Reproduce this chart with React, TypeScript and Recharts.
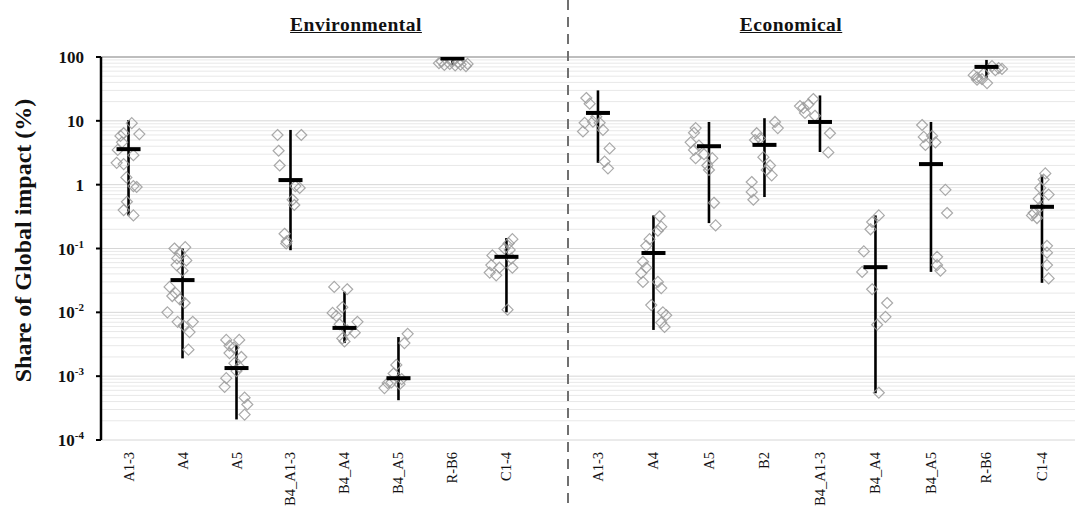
import React from "react";
import { ScatterChart, Scatter, XAxis, YAxis, ReferenceLine, Label } from "recharts";

const envCategories = ["A1-3", "A4", "A5", "B4_A1-3", "B4_A4", "B4_A5", "R-B6", "C1-4"];
const ecoCategories = ["A1-3", "A4", "A5", "B2", "B4_A1-3", "B4_A4", "B4_A5", "R-B6", "C1-4"];

const yTicks = [1e-4, 1e-3, 1e-2, 1e-1, 1, 10, 100];

// median and whisker ends per category
const envMedian = [3.6, 0.032, 0.00134, 1.18, 0.0057, 0.00093, 95, 0.074];
const envLow = [0.33, 0.0019, 0.00021, 0.094, 0.0033, 0.00042, 76, 0.01];
const envHigh = [10.3, 0.1, 0.0031, 7.2, 0.021, 0.0041, 100, 0.146];

const ecoMedian = [13.3, 0.085, 4.0, 4.2, 9.6, 0.051, 2.1, 70, 0.45];
const ecoLow = [2.2, 0.0053, 0.25, 0.64, 3.25, 0.00054, 0.043, 47, 0.029];
const ecoHigh = [30, 0.33, 9.6, 11, 25, 0.33, 9.6, 90, 1.42];

// individual results: [offset from category centre, value]
const envPoints: number[][][] = [
  [[-0.09, 6.4], [-0.15, 5.8], [0.06, 9.2], [0.2, 6.2], [-0.2, 3.5], [0.09, 2.9], [-0.22, 2.2], [-0.09, 2.1], [-0.04, 1.3], [0.15, 0.92], [0.09, 0.95], [-0.03, 0.54], [-0.09, 0.4], [0.09, 0.33], [-0.12, 4.6]],
  [[-0.15, 0.1], [0.05, 0.105], [-0.05, 0.085], [-0.1, 0.07], [0.07, 0.065], [-0.11, 0.055], [0.0, 0.045], [-0.24, 0.025], [-0.19, 0.018], [-0.05, 0.016], [0.04, 0.014], [-0.28, 0.01], [-0.09, 0.0071], [0.19, 0.0071], [0.02, 0.0062], [0.13, 0.0049], [0.11, 0.0026], [-0.13, 0.02]],
  [[-0.19, 0.0037], [0.05, 0.0037], [-0.13, 0.003], [-0.13, 0.0023], [0.09, 0.002], [-0.04, 0.0016], [0.05, 0.0014], [-0.19, 0.00093], [-0.22, 0.00068], [0.15, 0.00046], [0.2, 0.00036], [0.15, 0.00025], [-0.05, 0.0028], [0.0, 0.0012]],
  [[-0.24, 6.0], [0.2, 6.0], [-0.22, 3.4], [-0.2, 2.0], [0.17, 0.89], [0.09, 0.95], [0.04, 0.58], [0.07, 0.48], [-0.11, 0.17], [-0.07, 0.13], [-0.08, 0.12]],
  [[-0.19, 0.025], [0.05, 0.023], [-0.22, 0.0098], [-0.04, 0.012], [-0.15, 0.0088], [0.24, 0.0071], [-0.09, 0.0065], [0.05, 0.0052], [0.19, 0.0048], [-0.04, 0.0039], [0.0, 0.0035]],
  [[0.17, 0.0046], [0.11, 0.0033], [-0.04, 0.0015], [-0.09, 0.0011], [-0.2, 0.00078], [-0.26, 0.00065], [0.02, 0.00075], [0.06, 0.0009], [-0.13, 0.0008]],
  [[-0.25, 80], [-0.15, 75], [-0.05, 78], [0.05, 74], [0.15, 76], [0.25, 72], [-0.2, 85], [0.1, 82], [0.28, 78], [0.0, 88]],
  [[0.11, 0.14], [0.04, 0.12], [-0.04, 0.1], [0.06, 0.095], [-0.26, 0.078], [0.09, 0.07], [-0.28, 0.055], [-0.13, 0.05], [-0.31, 0.042], [-0.19, 0.038], [0.11, 0.05], [0.02, 0.011]],
];

const ecoPoints: number[][][] = [
  [[-0.21, 22.8], [-0.15, 18.6], [-0.24, 9.3], [-0.27, 6.8], [-0.09, 9.7], [0.03, 9.3], [0.09, 7.2], [0.21, 3.7], [0.18, 1.8], [0.12, 2.3], [-0.03, 11.6]],
  [[0.11, 0.32], [0.14, 0.22], [0.08, 0.19], [-0.07, 0.14], [-0.13, 0.11], [-0.19, 0.062], [-0.13, 0.05], [-0.22, 0.041], [-0.19, 0.03], [0.08, 0.03], [0.14, 0.024], [-0.04, 0.013], [0.17, 0.01], [0.23, 0.009], [0.14, 0.0069], [0.2, 0.0059]],
  [[-0.24, 7.7], [-0.27, 6.5], [-0.33, 4.6], [-0.18, 4.1], [-0.27, 3.5], [-0.24, 2.6], [-0.09, 3.0], [-0.03, 2.0], [0.06, 2.6], [0.0, 1.7], [0.09, 0.52], [0.12, 0.23]],
  [[0.19, 9.6], [0.24, 7.7], [-0.14, 6.4], [-0.17, 5.0], [-0.08, 5.3], [-0.02, 2.7], [0.1, 2.0], [0.04, 1.7], [0.13, 1.4], [-0.23, 1.1], [-0.23, 0.77], [-0.2, 0.58]],
  [[-0.12, 22], [-0.3, 16], [-0.21, 18], [-0.27, 13.3], [-0.09, 12], [0.18, 6.4], [0.15, 3.2], [-0.36, 17]],
  [[0.06, 0.33], [-0.06, 0.26], [-0.09, 0.2], [-0.21, 0.09], [-0.24, 0.043], [-0.06, 0.023], [0.21, 0.014], [0.18, 0.0085], [0.03, 0.0064], [0.06, 0.00055]],
  [[-0.16, 8.6], [-0.13, 5.6], [0.02, 5.8], [-0.1, 4.2], [0.08, 4.6], [0.26, 0.83], [0.29, 0.36], [0.11, 0.074], [0.11, 0.055], [0.17, 0.045]],
  [[-0.17, 48], [-0.08, 45], [0.01, 39], [0.22, 67], [0.28, 65], [0.1, 72], [-0.23, 52], [0.16, 62], [-0.05, 55], [-0.17, 44]],
  [[0.06, 1.5], [0.03, 1.2], [-0.03, 0.89], [0.12, 0.7], [-0.06, 0.6], [-0.15, 0.36], [-0.09, 0.3], [-0.18, 0.33], [-0.03, 0.45], [0.09, 0.11], [0.09, 0.086], [0.09, 0.055], [0.12, 0.034]],
];

// log minor grid lines
const gridValues: number[] = [];
for (let e = -4; e < 2; e++) for (let k = 2; k < 10; k++) gridValues.push(k * Math.pow(10, e));

const serif = "'Liberation Serif', 'Times New Roman', serif";

const Diamond = (props: any) => {
  const { cx, cy } = props;
  if (cx == null || cy == null) return null;
  const r = 5.5;
  return (
    <polygon
      points={`${cx},${cy - r} ${cx + r},${cy} ${cx},${cy + r} ${cx - r},${cy}`}
      fill="none"
      stroke="#9a9a9a"
      strokeWidth={1.2}
      strokeOpacity={0.85}
    />
  );
};

const MedianBar = (props: any) => {
  const { cx, cy } = props;
  if (cx == null || cy == null) return null;
  return <rect x={cx - 12} y={cy - 2} width={24} height={4} fill="#000" />;
};

const YTick = (props: any) => {
  const { x, y, payload } = props;
  const exp = Math.round(Math.log10(payload.value));
  const style = { fontFamily: serif, fontWeight: 700, fontSize: 17, fill: "#111" };
  if (exp >= 0) {
    return (
      <text x={x} y={y} dy={6} textAnchor="end" style={style}>
        {String(payload.value)}
      </text>
    );
  }
  return (
    <text x={x} y={y} dy={6} textAnchor="end" style={style}>
      <tspan>10</tspan>
      <tspan dy={-7} fontSize={11}>{String(exp)}</tspan>
    </text>
  );
};

const makeXTick = (names: string[]) => (props: any) => {
  const { x, y, payload } = props;
  return (
    <text
      x={x}
      y={y}
      transform={`rotate(-90 ${x} ${y})`}
      textAnchor="end"
      dominantBaseline="central"
      style={{ fontFamily: serif, fontSize: 14.5, fill: "#111" }}
    >
      {names[payload.value]}
    </text>
  );
};

const toPoints = (pts: number[][][]) =>
  pts.flatMap((list, i) => list.map(([dx, v]) => ({ x: i + dx, y: v })));
const toMedians = (vals: number[]) => vals.map((v, i) => ({ x: i, y: v }));

const Panel = ({
  names, points, median, low, high, width, domain, margin, showY,
}: {
  names: string[]; points: number[][][]; median: number[]; low: number[]; high: number[];
  width: number; domain: [number, number]; margin: any; showY: boolean;
}) => (
  <ScatterChart width={width} height={508} margin={margin}>
    <XAxis
      type="number"
      dataKey="x"
      domain={domain}
      allowDataOverflow
      ticks={names.map((_, i) => i)}
      interval={0}
      axisLine={false}
      tickLine={false}
      height={68}
      tickMargin={6}
      tick={makeXTick(names)}
    />
    <YAxis
      type="number"
      dataKey="y"
      scale="log"
      domain={[1e-4, 100]}
      allowDataOverflow
      ticks={yTicks}
      interval={0}
      hide={!showY}
      width={101}
      axisLine={{ stroke: "#000", strokeWidth: 2.5 }}
      tickLine={{ stroke: "#000", strokeWidth: 2 }}
      tickSize={5}
      tickMargin={12}
      tick={<YTick />}
    >
      {showY && (
        <Label
          content={(p: any) => {
            const vb = p.viewBox || {};
            const cx = 23;
            const cy = (vb.y ?? 57) + (vb.height ?? 383) / 2 - 8;
            return (
              <text
                x={cx}
                y={cy}
                transform={`rotate(-90 ${cx} ${cy})`}
                textAnchor="middle"
                dominantBaseline="central"
                style={{ fontFamily: serif, fontWeight: 700, fontSize: 24, fill: "#111" }}
              >
                Share of Global impact (%)
              </text>
            );
          }}
        />
      )}
    </YAxis>
    {gridValues.map((v) => (
      <ReferenceLine key={`g${v}`} y={v} stroke="#e8e8e8" strokeWidth={1} />
    ))}
    {[1e-4, 1e-3, 1e-2, 1e-1, 1, 10].map((v) => (
      <ReferenceLine key={`m${v}`} y={v} stroke="#d6d6d6" strokeWidth={1} />
    ))}
    <ReferenceLine y={100} stroke="#a8a8a8" strokeWidth={1.5} />
    {low.map((lo, i) => (
      <ReferenceLine
        key={`r${i}`}
        segment={[{ x: i, y: lo }, { x: i, y: high[i] }]}
        stroke="#000"
        strokeWidth={2.6}
        ifOverflow="visible"
      />
    ))}
    <Scatter data={toPoints(points)} shape={<Diamond />} isAnimationActive={false} />
    <Scatter data={toMedians(median)} shape={<MedianBar />} isAnimationActive={false} />
  </ScatterChart>
);

const titleStyle: React.CSSProperties = {
  position: "absolute",
  top: 14,
  fontFamily: serif,
  fontWeight: 700,
  fontSize: 19.5,
  textDecoration: "underline",
  color: "#111",
  transform: "translateX(-50%)",
  whiteSpace: "nowrap",
  letterSpacing: 0.5,
};

export default function App() {
  return (
    <div style={{ position: "absolute", left: 0, top: 0, width: 1084, height: 508, background: "#fff", overflow: "hidden" }}>
      <div style={{ position: "absolute", left: 0, top: 0 }}>
        <Panel
          names={envCategories}
          points={envPoints}
          median={envMedian}
          low={envLow}
          high={envHigh}
          width={568}
          domain={[-0.51, 8.14]}
          margin={{ top: 57, right: 0, bottom: 0, left: 0 }}
          showY
        />
      </div>
      <div style={{ position: "absolute", left: 568, top: 0 }}>
        <Panel
          names={ecoCategories}
          points={ecoPoints}
          median={ecoMedian}
          low={ecoLow}
          high={ecoHigh}
          width={516}
          domain={[-0.54, 8.595]}
          margin={{ top: 57, right: 9, bottom: 0, left: 0 }}
          showY={false}
        />
      </div>
      <svg style={{ position: "absolute", left: 0, top: 0 }} width={1084} height={508}>
        <line x1={568} y1={0} x2={568} y2={508} stroke="#707070" strokeWidth={2} strokeDasharray="10 7" />
      </svg>
      <div style={{ ...titleStyle, left: 356 }}>Environmental</div>
      <div style={{ ...titleStyle, left: 791 }}>Economical</div>
    </div>
  );
}
